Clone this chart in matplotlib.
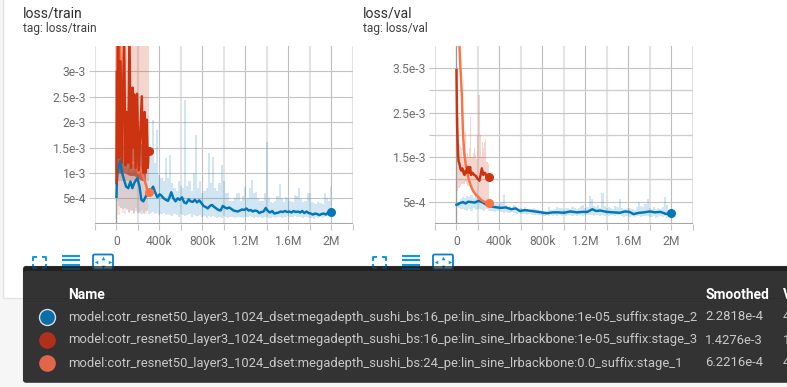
import numpy as np
import matplotlib
matplotlib.use("Agg")
import matplotlib.pyplot as plt
from matplotlib.patches import FancyBboxPatch, Rectangle

plt.rcParams['font.family'] = ['Roboto', 'DejaVu Sans']

# ---- data (x in thousands of steps, y in units of 1e-3) ----
RUN_NAMES = [
    "model:cotr_resnet50_layer3_1024_dset:megadepth_sushi_bs:16_pe:lin_sine_lrbackbone:1e-05_suffix:stage_2",
    "model:cotr_resnet50_layer3_1024_dset:megadepth_sushi_bs:16_pe:lin_sine_lrbackbone:1e-05_suffix:stage_3",
    "model:cotr_resnet50_layer3_1024_dset:megadepth_sushi_bs:24_pe:lin_sine_lrbackbone:0.0_suffix:stage_1",
]
SMOOTHED = ["2.2818e-4", "1.4276e-3", "6.2216e-4"]
VALUE_FIRST = ["4", "1", "4"]
X_TICK_POS = [0, 400, 800, 1200, 1600, 2000]
X_TICK_LAB = ["0", "400k", "800k", "1.2M", "1.6M", "2M"]
X_MINOR = [-200, 200, 600, 1000, 1400, 1800, 2200]
TRAIN_Y_POS = [0.5, 1.0, 1.5, 2.0, 2.5, 3.0]
TRAIN_Y_LAB = ["5e-4", "1e-3", "1.5e-3", "2e-3", "2.5e-3", "3e-3"]
VAL_Y_POS = [0.5, 1.5, 2.5, 3.5]
VAL_Y_LAB = ["5e-4", "1.5e-3", "2.5e-3", "3.5e-3"]
VAL_Y_MINOR = [1.0, 2.0, 3.0]

RAW_STEP_X = [i * 20 for i in range(101)]
TRAIN_BLUE_HI = [1.25, 1.2, 1.25, 1.1, 1.0, 1.0, 1.1, 1.0, 1.05, 1.2, 1.05,
                 0.9, 1.0, 1.1, 1.2, 1.3, 1.45, 2.05, 1.2, 1.85, 0.95,
                 0.9, 0.85, 1.3, 0.9, 1.35, 0.8, 0.7, 0.65, 0.85, 0.75,
                 0.7, 2.43, 0.75, 0.85, 0.65, 1.0, 1.75, 0.7, 0.85, 0.6,
                 0.65, 0.7, 1.4, 0.8, 1.32, 0.7, 0.65, 0.8, 1.16, 0.85,
                 0.6, 0.6, 0.45, 0.45, 0.5, 0.6, 0.6, 0.45, 0.55, 0.73,
                 0.5, 0.7, 0.86, 0.6, 0.63, 0.5, 0.45, 0.45, 0.6, 1.6,
                 0.5, 0.42, 0.4, 0.45, 0.55, 0.79, 0.5, 0.42, 0.53, 0.5,
                 0.45, 0.42, 0.56, 0.55, 0.71, 0.48, 0.42, 0.45, 0.6, 0.6,
                 0.42, 0.4, 0.38, 0.42, 0.4, 0.38, 0.6, 0.5, 0.45, 0.74]
TRAIN_BLUE_LO = [0.45, 0.35, 0.3, 0.28, 0.3, 0.26, 0.24, 0.27, 0.22, 0.25, 0.22,
                 0.24, 0.2, 0.22, 0.25, 0.2, 0.22, 0.24, 0.2, 0.22, 0.18,
                 0.2, 0.22, 0.17, 0.2, 0.18, 0.16, 0.2, 0.17, 0.13, 0.19,
                 0.18, 0.15, 0.18, 0.2, 0.14, 0.18, 0.16, 0.15, 0.18, 0.14,
                 0.16, 0.12, 0.16, 0.14, 0.15, 0.13, 0.11, 0.14, 0.12, 0.15,
                 0.13, 0.12, 0.14, 0.13, 0.11, 0.14, 0.13, 0.14, 0.12, 0.14,
                 0.13, 0.15, 0.13, 0.12, 0.14, 0.12, 0.13, 0.11, 0.13, 0.14,
                 0.12, 0.11, 0.13, 0.12, 0.14, 0.13, 0.12, 0.14, 0.13, 0.15,
                 0.13, 0.14, 0.15, 0.13, 0.14, 0.13, 0.12, 0.14, 0.13, 0.12,
                 0.11, 0.1, 0.13, 0.12, 0.13, 0.12, 0.14, 0.15, 0.16, 0.15]
TRAIN_BLUE = [(0, .53), (4, .86), (10, 1.0), (20, 1.1), (34, 1.25), (50, 1.02), (71, .86), (90, .73), (110, .7),
              (130, .83), (148, .7), (165, .8), (195, .9), (215, .73), (232, .47), (250, .44), (279, .56),
              (300, .6), (320, .66), (341, .73), (360, .62), (380, .52), (403, .58), (420, .55), (440, .5),
              (460, .47), (480, .45), (496, .53), (510, .62), (530, .5), (550, .44), (570, .5), (590, .47),
              (610, .52), (630, .42), (650, .4), (673, .48), (690, .44), (710, .43), (730, .47), (750, .42),
              (770, .46), (790, .41), (810, .35), (830, .33), (850, .3), (870, .35), (890, .37), (910, .33),
              (930, .3), (950, .27), (970, .26), (990, .35), (1010, .32), (1030, .3), (1050, .32), (1070, .29),
              (1090, .26), (1110, .25), (1130, .24), (1150, .26), (1170, .28), (1190, .27), (1210, .3), (1230, .26),
              (1250, .27), (1270, .24), (1290, .26), (1310, .25), (1330, .21), (1350, .23), (1370, .24), (1390, .31),
              (1410, .25), (1430, .22), (1450, .25), (1470, .2), (1490, .21), (1510, .22), (1530, .24), (1550, .23),
              (1570, .25), (1590, .23), (1610, .24), (1630, .22), (1650, .25), (1670, .23), (1690, .24), (1710, .22),
              (1730, .25), (1750, .21), (1770, .24), (1790, .21), (1810, .2), (1830, .18), (1850, .2), (1870, .19),
              (1890, .17), (1910, .19), (1930, .2), (1950, .18), (1970, .22), (1985, .24), (2000, .228)]

TRAIN_RED_RAW_X = [0, 300]
TRAIN_RED_RAW_HI = [4.0, 4.0]
TRAIN_RED_RAW_LO = [0.85, 0.85]
TRAIN_RED_CORE_X = [0, 40, 80, 120, 160, 200, 240, 270]
TRAIN_RED_CORE_HI = [2.0, 2.0, 1.9, 1.85, 1.75, 1.65, 1.55, 1.4]
TRAIN_RED_CORE_LO = [1.0, 1.0, 1.0, 0.95, 0.95, 0.9, 0.85, 0.85]
TRAIN_ORANGE_RAW_X = [0, 20, 40, 60, 80, 100, 120, 140, 160, 180, 200, 220, 240, 260, 280, 290]
TRAIN_ORANGE_RAW_HI = [1.2, 1.2, 1.2, 1.2, 1.1, 1.1, 1.1, 1.05, 1.0, 1.0, 1.0, 0.95, 0.9, 0.9, 0.85, 0.8]
TRAIN_ORANGE_RAW_LO = [0.2, 0.17, 0.3, 0.22, 0.2, 0.28, 0.21, 0.25, 0.2, 0.3, 0.22, 0.2, 0.27, 0.2, 0.19, 0.25]
TRAIN_RED_X = [0, 5, 10, 15, 24, 37, 50, 71, 84, 98, 108, 121, 134, 150, 157, 165, 178, 192, 207, 236, 249, 262, 270, 283, 292, 300]
TRAIN_RED_Y = [0.8, 3.0, 1.3, 3.8, 1.3, 3.2, 1.2, 3.8, 1.15, 2.2, 1.2, 3.8, 1.1, 2.68, 1.5, 2.55, 1.1, 2.56, 1.05, 2.51, 1.0, 2.2, 1.0, 2.05, 1.1, 1.43]
TRAIN_ORANGE_X = [0, 5, 15, 28, 40, 50, 60, 75, 90, 110, 130, 150, 170, 190, 205, 220, 240, 255, 270, 285, 300]
TRAIN_ORANGE_Y = [1.0, 3.5, 4.0, 4.0, 3.0, 2.4, 1.9, 1.6, 1.45, 1.35, 1.25, 1.2, 1.2, 1.15, 1.0, 1.1, 1.0, 0.88, 0.8, 0.68, 0.622]

VAL_BLUE_HI = [0.48, 0.5, 0.55, 0.6, 0.58, 0.62, 0.6, 0.66, 0.58, 0.62, 0.58,
               0.56, 0.54, 0.52, 0.5, 0.5, 0.46, 0.48, 0.45, 0.46, 0.45,
               0.46, 0.65, 0.42, 0.38, 0.4, 0.36, 0.42, 0.36, 0.34, 0.36,
               0.34, 0.38, 0.33, 0.32, 0.34, 0.36, 0.33, 0.32, 0.31, 0.3,
               0.3, 0.3, 0.38, 0.32, 0.31, 0.34, 0.38, 0.36, 0.35, 0.33,
               0.36, 0.35, 0.34, 0.38, 0.36, 0.34, 0.36, 0.4, 0.42, 0.36,
               0.38, 0.63, 0.55, 0.4, 0.38, 0.42, 0.36, 0.69, 0.4, 0.36,
               0.38, 0.36, 0.34, 0.4, 0.38, 0.56, 0.36, 0.34, 0.33, 0.36,
               0.36, 0.34, 0.32, 0.38, 0.5, 0.4, 0.38, 0.45, 0.55, 0.36,
               0.33, 0.38, 0.34, 0.36, 0.33, 0.38, 0.6, 0.42, 0.32, 0.33]
VAL_BLUE_LO = [0.38, 0.36, 0.34, 0.33, 0.31, 0.3, 0.34, 0.3, 0.36, 0.32, 0.33,
               0.33, 0.31, 0.3, 0.33, 0.28, 0.3, 0.28, 0.26, 0.29, 0.28,
               0.27, 0.25, 0.27, 0.25, 0.24, 0.27, 0.25, 0.23, 0.24, 0.22,
               0.22, 0.23, 0.21, 0.22, 0.2, 0.21, 0.19, 0.21, 0.2, 0.19,
               0.18, 0.19, 0.17, 0.2, 0.18, 0.19, 0.17, 0.2, 0.18, 0.19,
               0.18, 0.2, 0.19, 0.18, 0.2, 0.18, 0.19, 0.2, 0.18, 0.19,
               0.2, 0.21, 0.2, 0.18, 0.2, 0.19, 0.18, 0.2, 0.17, 0.19,
               0.18, 0.2, 0.19, 0.17, 0.19, 0.2, 0.18, 0.15, 0.17, 0.18,
               0.16, 0.18, 0.15, 0.17, 0.18, 0.16, 0.18, 0.17, 0.18, 0.16,
               0.15, 0.17, 0.14, 0.16, 0.17, 0.15, 0.18, 0.14, 0.16, 0.18]
VAL_BLUE_X = [0, 15, 35, 60, 85, 110, 140, 170, 205, 240, 275, 310, 350, 410, 460, 510, 550, 590, 640, 700, 760,
              840, 900, 950, 1000, 1060, 1120, 1180, 1220, 1265, 1300, 1340, 1400, 1460, 1520, 1570, 1610, 1650,
              1700, 1750, 1800, 1850, 1900, 1945, 1975, 2000]
VAL_BLUE_Y = [0.43, 0.44, 0.47, 0.49, 0.46, 0.5, 0.49, 0.48, 0.52, 0.49, 0.44, 0.4, 0.38, 0.36, 0.37, 0.33, 0.35, 0.29, 0.31, 0.29, 0.27,
              0.24, 0.26, 0.26, 0.25, 0.28, 0.26, 0.27, 0.27, 0.33, 0.29, 0.3, 0.27, 0.26, 0.25, 0.28, 0.27, 0.22,
              0.25, 0.26, 0.28, 0.26, 0.27, 0.23, 0.22, 0.24]

VAL_RED_RAW_X = [i * 10 for i in range(31)]
VAL_RED_RAW_HI = [3.46, 3.0, 2.4, 1.8, 1.75, 1.7, 1.5, 1.6, 2.1, 1.5, 1.6, 1.5, 1.7, 2.4, 1.5, 1.5, 1.6, 1.7, 1.55, 1.45,
                  2.0, 2.9, 2.0, 1.5, 1.85, 1.7, 1.85, 1.9, 1.4, 1.4, 1.35]
VAL_RED_RAW_LO = [0.75, 0.75, 0.8, 0.8, 0.85, 0.9, 0.9, 0.9, 0.95, 0.9, 0.85, 0.85, 0.85, 0.8, 0.8, 0.75, 0.7, 0.65, 0.6, 0.6,
                  0.55, 0.5, 0.5, 0.45, 0.45, 0.42, 0.42, 0.4, 0.4, 0.4, 0.4]
VAL_RED_X = [0, 3, 6, 10, 15, 20, 28, 35, 45, 55, 65, 75, 85, 95, 105, 115, 127, 135, 150, 165, 180, 195, 214, 225, 236, 250, 265, 280, 300]
VAL_RED_Y = [3.46, 2.8, 2.2, 1.9, 1.55, 1.4, 1.35, 1.25, 1.2, 1.25, 1.15, 1.1, 1.2, 1.15, 1.28, 1.15, 1.28, 1.1, 1.15, 1.1, 1.08, 1.02, 0.97, 1.1, 1.25, 1.1, 1.15, 1.08, 1.05]
VAL_ORANGE_X = [10, 28, 35, 50, 60, 70, 85, 97, 115, 130, 143, 160, 180, 205, 230, 255, 280, 300]
VAL_ORANGE_Y = [5.5, 4.0, 3.6, 2.9, 2.1, 1.65, 1.35, 1.2, 1.0, 0.88, 0.8, 0.72, 0.66, 0.6, 0.54, 0.5, 0.48, 0.47]

BLUE, RED, ORANGE = "#0077bb", "#cc3311", "#ff7043"
LW = 1.75
MS = 6.5
W, H = 787, 387

fig = plt.figure(figsize=(W / 100, H / 100), dpi=100, facecolor="#f6f6f6")

bg = fig.add_axes([0, 0, 1, 1], zorder=0)
bg.set_xlim(0, W); bg.set_ylim(H, 0); bg.axis("off")
bg.add_patch(Rectangle((2.5, -5), W, 303, fc="white", ec="#e2e2e2", lw=1))


def make_axes(x0, x1, y0, y1):
    ax = fig.add_axes([x0 / W, 1 - y1 / H, (x1 - x0) / W, (y1 - y0) / H], zorder=1)
    ax.patch.set_alpha(0)
    for s in ax.spines.values():
        s.set_visible(False)
    ax.set_xlim(-200, 2200)
    ax.set_axisbelow(True)
    ax.set_xticks(X_TICK_POS, X_TICK_LAB)
    ax.set_xticks(X_MINOR, minor=True)
    ax.grid(True, which="major", axis="x", color="#bdbdbd", lw=0.8)
    ax.grid(True, which="minor", axis="x", color="#e3e3e3", lw=1.5)
    ax.tick_params(axis="x", which="both", length=4, width=0.8, color="#c4c4c4", labelsize=8.7,
                   labelcolor="#6e6e6e", pad=4)
    ax.tick_params(axis="y", which="both", length=4, width=0.8, color="#c4c4c4", labelsize=8.7,
                   labelcolor="#6e6e6e", pad=2.5)
    ax.axvline(0, color="#9a9a9a", lw=0.9, zorder=1.5)
    ax.axhline(0, color="#a6a6a6", lw=1.5, zorder=1.5)
    return ax


# ---- loss/train ----
ax1 = make_axes(95, 352.7, 46, 223.7)
ax1.set_ylim(0, 3.5)
ax1.set_yticks(TRAIN_Y_POS, TRAIN_Y_LAB)
ax1.grid(True, which="major", axis="y", color="#c4c4c4", lw=0.8)
ax1.fill_between(RAW_STEP_X, TRAIN_BLUE_LO, TRAIN_BLUE_HI, color=BLUE, alpha=0.18, lw=0, step="mid")
ax1.fill_between(TRAIN_ORANGE_RAW_X, TRAIN_ORANGE_RAW_LO, TRAIN_ORANGE_RAW_HI, color=ORANGE, alpha=0.2, lw=0, step="mid")
ax1.fill_between(TRAIN_RED_RAW_X, TRAIN_RED_RAW_LO, TRAIN_RED_RAW_HI, color=RED, alpha=0.2, lw=0)
ax1.fill_between(TRAIN_RED_CORE_X, TRAIN_RED_CORE_LO, TRAIN_RED_CORE_HI, color="#a8351f", alpha=0.65, lw=0)
ax1.plot(TRAIN_ORANGE_X, TRAIN_ORANGE_Y, color=ORANGE, lw=LW)
ax1.plot(*zip(*TRAIN_BLUE), color=BLUE, lw=LW)
ax1.plot(TRAIN_RED_X, TRAIN_RED_Y, color=RED, lw=LW)
ax1.plot(TRAIN_ORANGE_X[-1], TRAIN_ORANGE_Y[-1], "o", color=ORANGE, ms=MS, mew=0)
ax1.plot(TRAIN_RED_X[-1], TRAIN_RED_Y[-1], "o", color=RED, ms=MS, mew=0)
ax1.plot(*TRAIN_BLUE[-1], "o", color=BLUE, ms=MS, mew=0)

# ---- loss/val ----
ax2 = make_axes(435, 692.7, 46, 223.9)
ax2.set_ylim(0, 4.0)
ax2.set_yticks(VAL_Y_POS, VAL_Y_LAB)
ax2.set_yticks(VAL_Y_MINOR, minor=True)
ax2.grid(True, which="major", axis="y", color="#c4c4c4", lw=0.8)
ax2.grid(True, which="minor", axis="y", color="#cfcfcf", lw=1.0)
ax2.fill_between(RAW_STEP_X, VAL_BLUE_LO, VAL_BLUE_HI, color=BLUE, alpha=0.18, lw=0, step="mid")
ax2.fill_between(VAL_RED_RAW_X, VAL_RED_RAW_LO, VAL_RED_RAW_HI, color=RED, alpha=0.2, lw=0, step="mid")
ax2.plot(VAL_BLUE_X, VAL_BLUE_Y, color=BLUE, lw=LW)
ax2.plot(VAL_ORANGE_X, VAL_ORANGE_Y, color=ORANGE, lw=LW)
ax2.plot(VAL_RED_X, VAL_RED_Y, color=RED, lw=LW)
ax2.plot(VAL_ORANGE_X[-1], VAL_ORANGE_Y[-1], "o", color=ORANGE, ms=MS, mew=0)
ax2.plot(VAL_RED_X[-1], VAL_RED_Y[-1], "o", color=RED, ms=MS, mew=0)
ax2.plot(VAL_BLUE_X[-1], VAL_BLUE_Y[-1], "o", color=BLUE, ms=MS, mew=0)

# ---- overlay in pixel coordinates ----
ov = fig.add_axes([0, 0, 1, 1], zorder=2)
ov.set_xlim(0, W); ov.set_ylim(H, 0); ov.axis("off"); ov.patch.set_alpha(0)

ov.text(23, 14, "loss/train", fontsize=10.1, color="#303030", va="center")
ov.text(23, 28.5, "tag: loss/train", fontsize=8.6, color="#404040", va="center")
ov.text(363, 14, "loss/val", fontsize=10.1, color="#303030", va="center")
ov.text(363, 28.5, "tag: loss/val", fontsize=8.6, color="#404040", va="center")

# opaque panel first, icons over it, then a veil so that icon parts over the panel go dark
ov.add_patch(FancyBboxPatch((23, 266), 900, 116.5, boxstyle="round,pad=0,rounding_size=3",
                            fc="#333333", ec="#d8d8d8", lw=0.4, zorder=2))
ICON = "#0a98e8"
for off in (0, 340):
    for (cx, cy, dx, dy) in [(32.5, 256.5, 1, 1), (45.5, 256.5, -1, 1), (32.5, 268, 1, -1), (45.5, 268, -1, -1)]:
        ov.plot([off + cx + dx * 4, off + cx, off + cx], [cy, cy, cy + dy * 4], color=ICON, lw=1.4,
                solid_capstyle="butt", zorder=3)
    for yy in (255.5, 260, 264.5, 268.5):
        ov.plot([off + 62, off + 80], [yy, yy], color=ICON, lw=1.5, solid_capstyle="butt", zorder=3)
    ov.add_patch(FancyBboxPatch((off + 93, 254.5), 20, 15, boxstyle="round,pad=0,rounding_size=1.5",
                                fc="white", ec="#0a7ec8", lw=1.3, zorder=3))
    for (mx, my, mk) in [(103, 257.5, "^"), (103, 266.5, "v"), (96, 262, "<"), (110, 262, ">")]:
        ov.plot([off + mx], [my], marker=mk, ms=2.6, color=ICON, mew=0, zorder=3.1)
ov.add_patch(FancyBboxPatch((23, 266), 900, 116.5, boxstyle="round,pad=0,rounding_size=3",
                            fc="#1a1a1a", ec="none", alpha=0.72, zorder=4))
ov.add_patch(FancyBboxPatch((23, 271), 900, 111.5, boxstyle="round,pad=0,rounding_size=3",
                            fc="#333333", ec="none", zorder=4.1))
ov.plot([23, W], [298, 298], color="#2c2c2c", lw=0.7, zorder=4.2)

ov.text(68, 295, "Name", color="#ffffff", fontsize=10.0, fontweight="bold", va="center", zorder=5)
ov.text(705, 295, "Smoothed", color="#ffffff", fontsize=9.9, fontweight="bold", va="center", zorder=5)
ov.text(783, 295, "Value", color="#ffffff", fontsize=9.9, fontweight="bold", va="center", zorder=5)

ROW_Y = [317, 340, 363]
DOTS = ["#0b6ea6", "#b0301c", "#e2654a"]
for y, name, sm, v, dot in zip(ROW_Y, RUN_NAMES, SMOOTHED, VALUE_FIRST, DOTS):
    ov.text(68, y, name, color="#c9c9c9", fontsize=9.33, va="center", zorder=5)
    ov.text(705, y, sm, color="#c9c9c9", fontsize=9.33, va="center", zorder=5)
    ov.text(783, y, v, color="#c9c9c9", fontsize=9.33, va="center", zorder=5)
    ov.plot([47], [y], "o", ms=12, color=dot, mew=0, zorder=5)
ov.plot([47], [ROW_Y[0]], "o", ms=11.5, mfc=DOTS[0], mec="#cfdde6", mew=1, zorder=5.1)

fig.savefig("out.png", dpi=100, facecolor=fig.get_facecolor())
